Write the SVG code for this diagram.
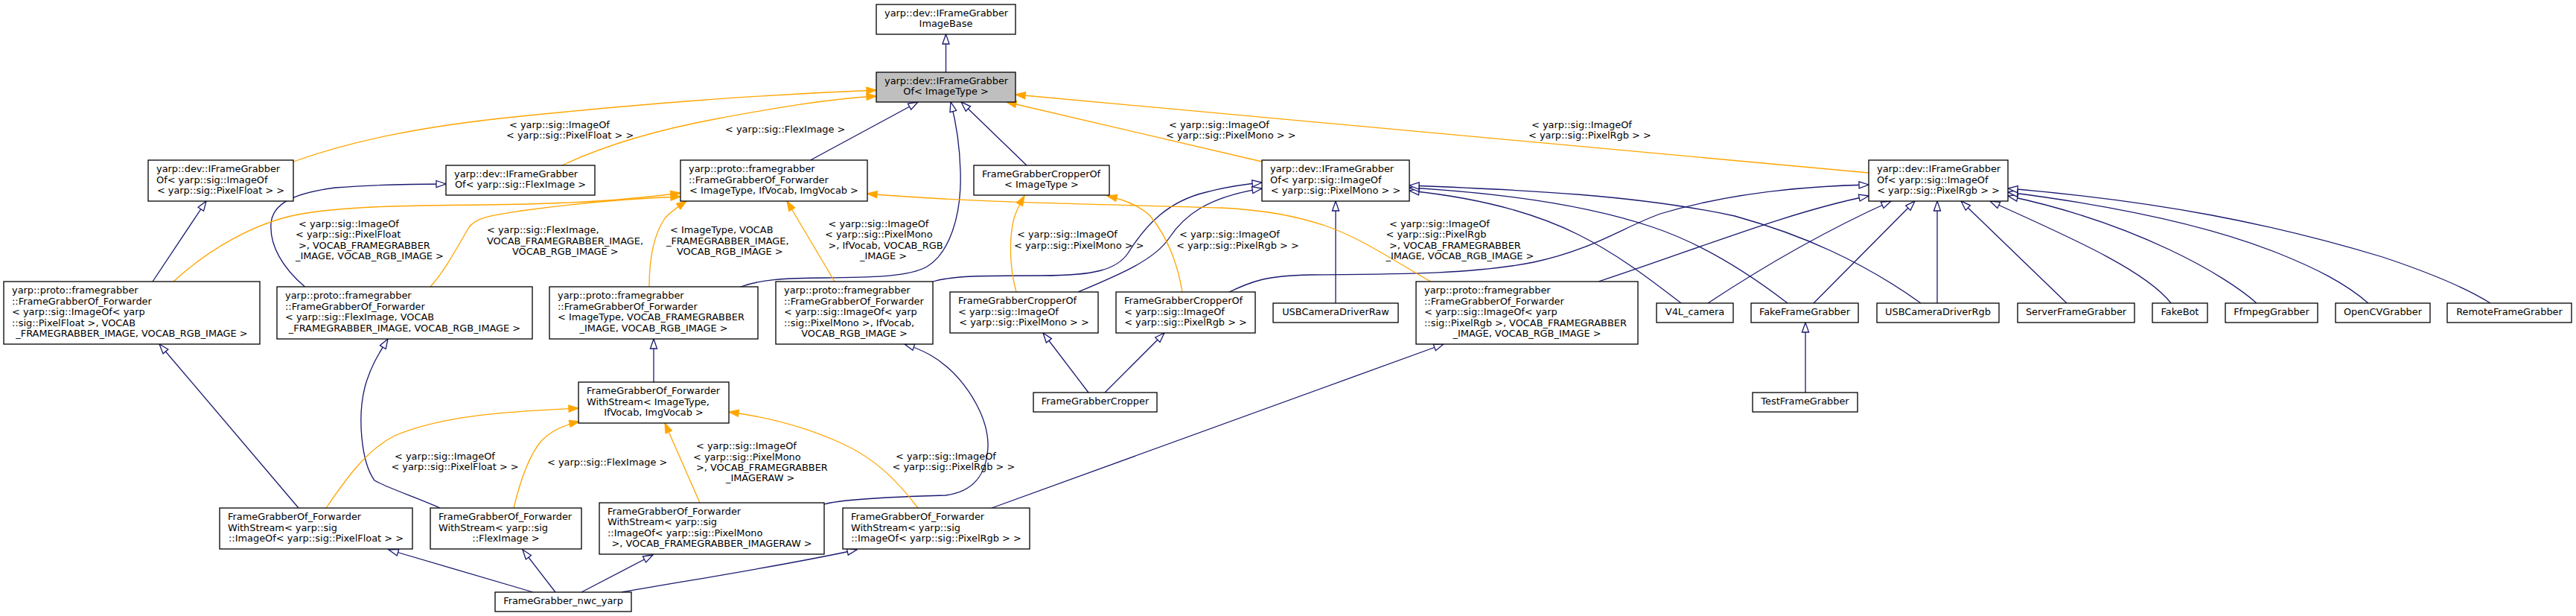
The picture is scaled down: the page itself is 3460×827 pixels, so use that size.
<svg xmlns="http://www.w3.org/2000/svg" width="3460" height="827" viewBox="0 0 3460 827">
<style>
.node rect{fill:#fff;stroke:#000;stroke-width:1.3}
.node.root rect{fill:#bfbfbf}
text{font-family:"DejaVu Sans","Liberation Sans",sans-serif;font-size:12.9px;fill:#000}
.c{text-anchor:middle}
#edges path{fill:none;stroke-width:1.3}
#edges .b{stroke:#191970;marker-end:url(#hollow)}
#edges .o{stroke:#ffa500;marker-end:url(#filled)}
</style>
<defs>
<marker id="hollow" markerUnits="userSpaceOnUse" markerWidth="16" markerHeight="12" refX="13" refY="4.5" orient="auto" overflow="visible"><path d="M0,0 L13,4.5 L0,9 z" fill="#fff" stroke="#191970" stroke-width="1.3"/></marker>
<marker id="filled" markerUnits="userSpaceOnUse" markerWidth="16" markerHeight="12" refX="13" refY="4.5" orient="auto" overflow="visible"><path d="M0,0 L13,4.5 L0,9 z" fill="#ffa500" stroke="#ffa500" stroke-width="1.3"/></marker>
</defs>
<rect width="3460" height="827" fill="#fff"/>

<g id="edges">
<path class="b" d="M1270.5,97 L1270.5,46"/>
<path class="b" d="M1088.6,215 L1233,137"/>
<path class="b" d="M1379,222 L1291,137"/>
<path class="b" d="M995,385 C1020,376 1050,373 1110,373 C1170,372 1220,372 1245,358 C1275,340 1292,290 1290,230 C1289,190 1283,160 1277,137"/>
<path class="b" d="M205,378 L277,270"/>
<path class="b" d="M409.5,385 C380,360 362,330 364,300 C366,275 390,260 450,252 C500,248 550,247 599,247"/>
<path class="b" d="M1253,378 C1280,370 1320,370 1400,370 C1470,370 1500,362 1515,340 C1540,300 1570,270 1620,258 C1650,250 1675,247 1695,245"/>
<path class="b" d="M1448,392 C1500,370 1550,350 1570,320 C1590,290 1620,265 1695,253"/>
<path class="b" d="M1794,407 L1794,270"/>
<path class="b" d="M2258,407 C2210,370 2170,340 2120,315 C2060,285 1980,265 1893,256"/>
<path class="b" d="M2401,407 C2340,360 2280,325 2220,305 C2140,278 2030,260 1893,252"/>
<path class="b" d="M2580,407 C2500,350 2420,315 2330,290 C2200,262 2050,255 1893,249"/>
<path class="b" d="M1649,393 C1680,378 1700,370 1760,369 C1880,368 1980,368 2060,352 C2140,335 2180,305 2230,287 C2320,260 2420,250 2510,248"/>
<path class="b" d="M2147,378 C2270,338 2400,285 2510,263"/>
<path class="b" d="M2294,407 C2350,370 2440,315 2540,270"/>
<path class="b" d="M2436,407 L2572,270"/>
<path class="b" d="M2602,407 L2602,270"/>
<path class="b" d="M2776,407 L2634,270"/>
<path class="b" d="M2916,407 C2880,360 2760,310 2673,270"/>
<path class="b" d="M3031,407 C2990,370 2870,300 2697,263"/>
<path class="b" d="M3181,407 C3150,380 3110,360 3060,340 C2960,300 2830,275 2697,258"/>
<path class="b" d="M3345,407 C3310,385 3260,365 3200,345 C3050,300 2900,270 2697,253"/>
<path class="b" d="M2425,527 L2425,433"/>
<path class="b" d="M1462,527 L1401,447"/>
<path class="b" d="M1484,527 L1564,447"/>
<path class="b" d="M878,513 L878,455"/>
<path class="b" d="M401,682 L214,462"/>
<path class="b" d="M591,682 C560,668 520,655 503,645 C485,620 480,560 490,520 C498,490 512,470 521,455"/>
<path class="b" d="M1107,677 C1130,670 1200,667 1270,665 C1310,660 1325,635 1327,600 C1328,560 1300,520 1280,500 C1260,480 1240,470 1215,462"/>
<path class="b" d="M1332,682 L1939,462"/>
<path class="b" d="M716,795 L522,738"/>
<path class="b" d="M746,795 L702,738"/>
<path class="b" d="M781,795 L877,745"/>
<path class="b" d="M835,795 C920,780 1050,760 1151,738"/>

<path class="o" d="M394,217 C470,190 560,170 700,156 C850,141 1000,128 1177,121"/>
<path class="o" d="M755,222 C810,196 880,175 960,160 C1040,145 1110,133 1177,129"/>
<path class="o" d="M233,378 C280,335 340,300 400,288 C460,277 540,276 650,275 C760,274 850,268 914,259"/>
<path class="o" d="M578,385 C600,360 615,330 630,305 C640,292 655,290 700,283 C780,272 860,266 914,264"/>
<path class="o" d="M872,385 C872,350 878,315 893,293 C903,282 913,276 922,270"/>
<path class="o" d="M1121,378 L1057,270"/>
<path class="o" d="M1695,217 L1352,137"/>
<path class="o" d="M2510,232 L1364,127"/>
<path class="o" d="M1922,378 C1880,355 1830,320 1780,303 C1740,290 1700,282 1640,279 C1480,274 1300,272 1165,260"/>
<path class="o" d="M1365,392 C1356,360 1355,320 1362,293 C1366,280 1372,270 1376,263"/>
<path class="o" d="M1588,392 C1583,360 1570,320 1545,290 C1530,275 1505,267 1487,263"/>
<path class="o" d="M438,682 C460,650 490,605 530,585 C600,555 700,552 777,548"/>
<path class="o" d="M690,682 C700,640 712,610 727,592 C740,578 760,570 778,566"/>
<path class="o" d="M940,675 L893,568"/>
<path class="o" d="M1233,682 C1205,645 1175,615 1130,595 C1080,572 1030,560 979,553"/>

<text x="684" y="171.7">&lt; yarp::sig::ImageOf</text>
<text x="680" y="186">&lt; yarp::sig::PixelFloat &gt; &gt;</text>
<text x="974" y="178.3">&lt; yarp::sig::FlexImage &gt;</text>
<text x="401" y="305">&lt; yarp::sig::ImageOf</text>
<text x="397" y="319.3">&lt; yarp::sig::PixelFloat</text>
<text x="401" y="333.6">&gt;, VOCAB_FRAMEGRABBER</text>
<text x="397" y="347.9">_IMAGE, VOCAB_RGB_IMAGE &gt;</text>
<text x="654" y="313.3">&lt; yarp::sig::FlexImage,</text>
<text x="654" y="327.6">VOCAB_FRAMEGRABBER_IMAGE,</text>
<text x="688" y="341.9">VOCAB_RGB_IMAGE &gt;</text>
<text x="900" y="313.3">&lt; ImageType, VOCAB</text>
<text x="895" y="327.6">_FRAMEGRABBER_IMAGE,</text>
<text x="909" y="341.9">VOCAB_RGB_IMAGE &gt;</text>
<text x="1112.5" y="305">&lt; yarp::sig::ImageOf</text>
<text x="1108" y="319.3">&lt; yarp::sig::PixelMono</text>
<text x="1112.5" y="333.6">&gt;, IfVocab, VOCAB_RGB</text>
<text x="1155" y="347.9">_IMAGE &gt;</text>
<text x="1570" y="171.7">&lt; yarp::sig::ImageOf</text>
<text x="1566" y="186">&lt; yarp::sig::PixelMono &gt; &gt;</text>
<text x="2057" y="171.7">&lt; yarp::sig::ImageOf</text>
<text x="2053" y="186">&lt; yarp::sig::PixelRgb &gt; &gt;</text>
<text x="1866" y="305">&lt; yarp::sig::ImageOf</text>
<text x="1861.5" y="319.3">&lt; yarp::sig::PixelRgb</text>
<text x="1866" y="333.6">&gt;, VOCAB_FRAMEGRABBER</text>
<text x="1861.5" y="347.9">_IMAGE, VOCAB_RGB_IMAGE &gt;</text>
<text x="1366" y="319.3">&lt; yarp::sig::ImageOf</text>
<text x="1362" y="333.6">&lt; yarp::sig::PixelMono &gt; &gt;</text>
<text x="1584" y="319.3">&lt; yarp::sig::ImageOf</text>
<text x="1580" y="333.6">&lt; yarp::sig::PixelRgb &gt; &gt;</text>
<text x="530" y="616.7">&lt; yarp::sig::ImageOf</text>
<text x="525.4" y="631">&lt; yarp::sig::PixelFloat &gt; &gt;</text>
<text x="735" y="625">&lt; yarp::sig::FlexImage &gt;</text>
<text x="935" y="603.3">&lt; yarp::sig::ImageOf</text>
<text x="931" y="617.6">&lt; yarp::sig::PixelMono</text>
<text x="935" y="631.9">&gt;, VOCAB_FRAMEGRABBER</text>
<text x="975" y="646.2">_IMAGERAW &gt;</text>
<text x="1203" y="616.7">&lt; yarp::sig::ImageOf</text>
<text x="1198.5" y="631">&lt; yarp::sig::PixelRgb &gt; &gt;</text>
</g>

<g id="n_imagebase" class="node"><rect x="1177" y="6" width="187" height="40"/><text><tspan x="1188" y="21.8">yarp::dev::IFrameGrabber</tspan><tspan class="c" x="1270.5" y="36.3">ImageBase</tspan></text></g>
<g id="n_of_imagetype" class="node root"><rect x="1177" y="97" width="187" height="40"/><text><tspan x="1188" y="112.8">yarp::dev::IFrameGrabber</tspan><tspan class="c" x="1270.5" y="127.3">Of&lt; ImageType &gt;</tspan></text></g>
<g id="n_of_pixelfloat" class="node"><rect x="199" y="215" width="195" height="55"/><text><tspan x="210" y="231.05">yarp::dev::IFrameGrabber</tspan><tspan x="210" y="245.55">Of&lt; yarp::sig::ImageOf</tspan><tspan class="c" x="296.5" y="260.05">&lt; yarp::sig::PixelFloat &gt; &gt;</tspan></text></g>
<g id="n_of_fleximage" class="node"><rect x="599" y="222" width="200" height="40"/><text><tspan x="610" y="237.8">yarp::dev::IFrameGrabber</tspan><tspan class="c" x="699" y="252.3">Of&lt; yarp::sig::FlexImage &gt;</tspan></text></g>
<g id="n_fwd_template" class="node"><rect x="914" y="215" width="251" height="55"/><text><tspan x="925" y="231.05">yarp::proto::framegrabber</tspan><tspan x="925" y="245.55">::FrameGrabberOf_Forwarder</tspan><tspan class="c" x="1039.5" y="260.05">&lt; ImageType, IfVocab, ImgVocab &gt;</tspan></text></g>
<g id="n_cropperof" class="node"><rect x="1308" y="222" width="182" height="40"/><text><tspan x="1319" y="237.8">FrameGrabberCropperOf</tspan><tspan class="c" x="1399" y="252.3">&lt; ImageType &gt;</tspan></text></g>
<g id="n_of_pixelmono" class="node"><rect x="1695" y="215" width="198" height="55"/><text><tspan x="1706" y="231.05">yarp::dev::IFrameGrabber</tspan><tspan x="1706" y="245.55">Of&lt; yarp::sig::ImageOf</tspan><tspan class="c" x="1794" y="260.05">&lt; yarp::sig::PixelMono &gt; &gt;</tspan></text></g>
<g id="n_of_pixelrgb" class="node"><rect x="2510" y="215" width="187" height="55"/><text><tspan x="2521" y="231.05">yarp::dev::IFrameGrabber</tspan><tspan x="2521" y="245.55">Of&lt; yarp::sig::ImageOf</tspan><tspan class="c" x="2603.5" y="260.05">&lt; yarp::sig::PixelRgb &gt; &gt;</tspan></text></g>

<g id="n_fwd_pixelfloat" class="node"><rect x="5" y="378" width="344" height="84"/><text><tspan x="16" y="394.05">yarp::proto::framegrabber</tspan><tspan x="16" y="408.55">::FrameGrabberOf_Forwarder</tspan><tspan x="16" y="423.05">&lt; yarp::sig::ImageOf&lt; yarp</tspan><tspan x="16" y="437.55">::sig::PixelFloat &gt;, VOCAB</tspan><tspan class="c" x="177" y="452.05">_FRAMEGRABBER_IMAGE, VOCAB_RGB_IMAGE &gt;</tspan></text></g>
<g id="n_fwd_fleximage" class="node"><rect x="372" y="385" width="343" height="70"/><text><tspan x="383" y="401.3">yarp::proto::framegrabber</tspan><tspan x="383" y="415.8">::FrameGrabberOf_Forwarder</tspan><tspan x="383" y="430.3">&lt; yarp::sig::FlexImage, VOCAB</tspan><tspan class="c" x="543.5" y="444.8">_FRAMEGRABBER_IMAGE, VOCAB_RGB_IMAGE &gt;</tspan></text></g>
<g id="n_fwd_imagetype" class="node"><rect x="738" y="385" width="280" height="70"/><text><tspan x="749" y="401.3">yarp::proto::framegrabber</tspan><tspan x="749" y="415.8">::FrameGrabberOf_Forwarder</tspan><tspan x="749" y="430.3">&lt; ImageType, VOCAB_FRAMEGRABBER</tspan><tspan class="c" x="878" y="444.8">_IMAGE, VOCAB_RGB_IMAGE &gt;</tspan></text></g>
<g id="n_fwd_pixelmono" class="node"><rect x="1042" y="378" width="211" height="84"/><text><tspan x="1053" y="394.05">yarp::proto::framegrabber</tspan><tspan x="1053" y="408.55">::FrameGrabberOf_Forwarder</tspan><tspan x="1053" y="423.05">&lt; yarp::sig::ImageOf&lt; yarp</tspan><tspan x="1053" y="437.55">::sig::PixelMono &gt;, IfVocab,</tspan><tspan class="c" x="1147.5" y="452.05">VOCAB_RGB_IMAGE &gt;</tspan></text></g>
<g id="n_cropperof_mono" class="node"><rect x="1276" y="392" width="199" height="55"/><text><tspan x="1287" y="408.05">FrameGrabberCropperOf</tspan><tspan x="1287" y="422.55">&lt; yarp::sig::ImageOf</tspan><tspan class="c" x="1375.5" y="437.05">&lt; yarp::sig::PixelMono &gt; &gt;</tspan></text></g>
<g id="n_cropperof_rgb" class="node"><rect x="1499" y="392" width="187" height="55"/><text><tspan x="1510" y="408.05">FrameGrabberCropperOf</tspan><tspan x="1510" y="422.55">&lt; yarp::sig::ImageOf</tspan><tspan class="c" x="1592.5" y="437.05">&lt; yarp::sig::PixelRgb &gt; &gt;</tspan></text></g>
<g id="n_usbraw" class="node"><rect x="1710" y="407" width="168" height="26"/><text class="c" x="1794" y="423.05">USBCameraDriverRaw</text></g>
<g id="n_fwd_pixelrgb" class="node"><rect x="1902" y="378" width="298" height="84"/><text><tspan x="1913" y="394.05">yarp::proto::framegrabber</tspan><tspan x="1913" y="408.55">::FrameGrabberOf_Forwarder</tspan><tspan x="1913" y="423.05">&lt; yarp::sig::ImageOf&lt; yarp</tspan><tspan x="1913" y="437.55">::sig::PixelRgb &gt;, VOCAB_FRAMEGRABBER</tspan><tspan class="c" x="2051" y="452.05">_IMAGE, VOCAB_RGB_IMAGE &gt;</tspan></text></g>
<g id="n_v4l" class="node"><rect x="2225" y="407" width="103" height="26"/><text class="c" x="2276.5" y="423.05">V4L_camera</text></g>
<g id="n_fakefg" class="node"><rect x="2352" y="407" width="144" height="26"/><text class="c" x="2424" y="423.05">FakeFrameGrabber</text></g>
<g id="n_usbrgb" class="node"><rect x="2521" y="407" width="164" height="26"/><text class="c" x="2603" y="423.05">USBCameraDriverRgb</text></g>
<g id="n_serverfg" class="node"><rect x="2710" y="407" width="157" height="26"/><text class="c" x="2788.5" y="423.05">ServerFrameGrabber</text></g>
<g id="n_fakebot" class="node"><rect x="2891" y="407" width="74" height="26"/><text class="c" x="2928" y="423.05">FakeBot</text></g>
<g id="n_ffmpeg" class="node"><rect x="2989" y="407" width="124" height="26"/><text class="c" x="3051" y="423.05">FfmpegGrabber</text></g>
<g id="n_opencv" class="node"><rect x="3137" y="407" width="127" height="26"/><text class="c" x="3200.5" y="423.05">OpenCVGrabber</text></g>
<g id="n_remotefg" class="node"><rect x="3287" y="407" width="167" height="26"/><text class="c" x="3370.5" y="423.05">RemoteFrameGrabber</text></g>

<g id="n_ws_template" class="node"><rect x="777" y="513" width="202" height="55"/><text><tspan x="788" y="529.05">FrameGrabberOf_Forwarder</tspan><tspan x="788" y="543.55">WithStream&lt; ImageType,</tspan><tspan class="c" x="878" y="558.05">IfVocab, ImgVocab &gt;</tspan></text></g>
<g id="n_cropper" class="node"><rect x="1388" y="527" width="166" height="26"/><text class="c" x="1471" y="543.05">FrameGrabberCropper</text></g>
<g id="n_testfg" class="node"><rect x="2354" y="527" width="141" height="26"/><text class="c" x="2424.5" y="543.05">TestFrameGrabber</text></g>

<g id="n_ws_pixelfloat" class="node"><rect x="295" y="682" width="259" height="55"/><text><tspan x="306" y="698.05">FrameGrabberOf_Forwarder</tspan><tspan x="306" y="712.55">WithStream&lt; yarp::sig</tspan><tspan class="c" x="424.5" y="727.05">::ImageOf&lt; yarp::sig::PixelFloat &gt; &gt;</tspan></text></g>
<g id="n_ws_fleximage" class="node"><rect x="578" y="682" width="203" height="55"/><text><tspan x="589" y="698.05">FrameGrabberOf_Forwarder</tspan><tspan x="589" y="712.55">WithStream&lt; yarp::sig</tspan><tspan class="c" x="679.5" y="727.05">::FlexImage &gt;</tspan></text></g>
<g id="n_ws_pixelmono" class="node"><rect x="805" y="675" width="302" height="69"/><text><tspan x="816" y="690.8">FrameGrabberOf_Forwarder</tspan><tspan x="816" y="705.3">WithStream&lt; yarp::sig</tspan><tspan x="816" y="719.8">::ImageOf&lt; yarp::sig::PixelMono</tspan><tspan class="c" x="956" y="734.3">&gt;, VOCAB_FRAMEGRABBER_IMAGERAW &gt;</tspan></text></g>
<g id="n_ws_pixelrgb" class="node"><rect x="1132" y="682" width="251" height="55"/><text><tspan x="1143" y="698.05">FrameGrabberOf_Forwarder</tspan><tspan x="1143" y="712.55">WithStream&lt; yarp::sig</tspan><tspan class="c" x="1257.5" y="727.05">::ImageOf&lt; yarp::sig::PixelRgb &gt; &gt;</tspan></text></g>
<g id="n_nwc_yarp" class="node"><rect x="665" y="795" width="183" height="26"/><text class="c" x="756.5" y="811.05">FrameGrabber_nwc_yarp</text></g>
</svg>
